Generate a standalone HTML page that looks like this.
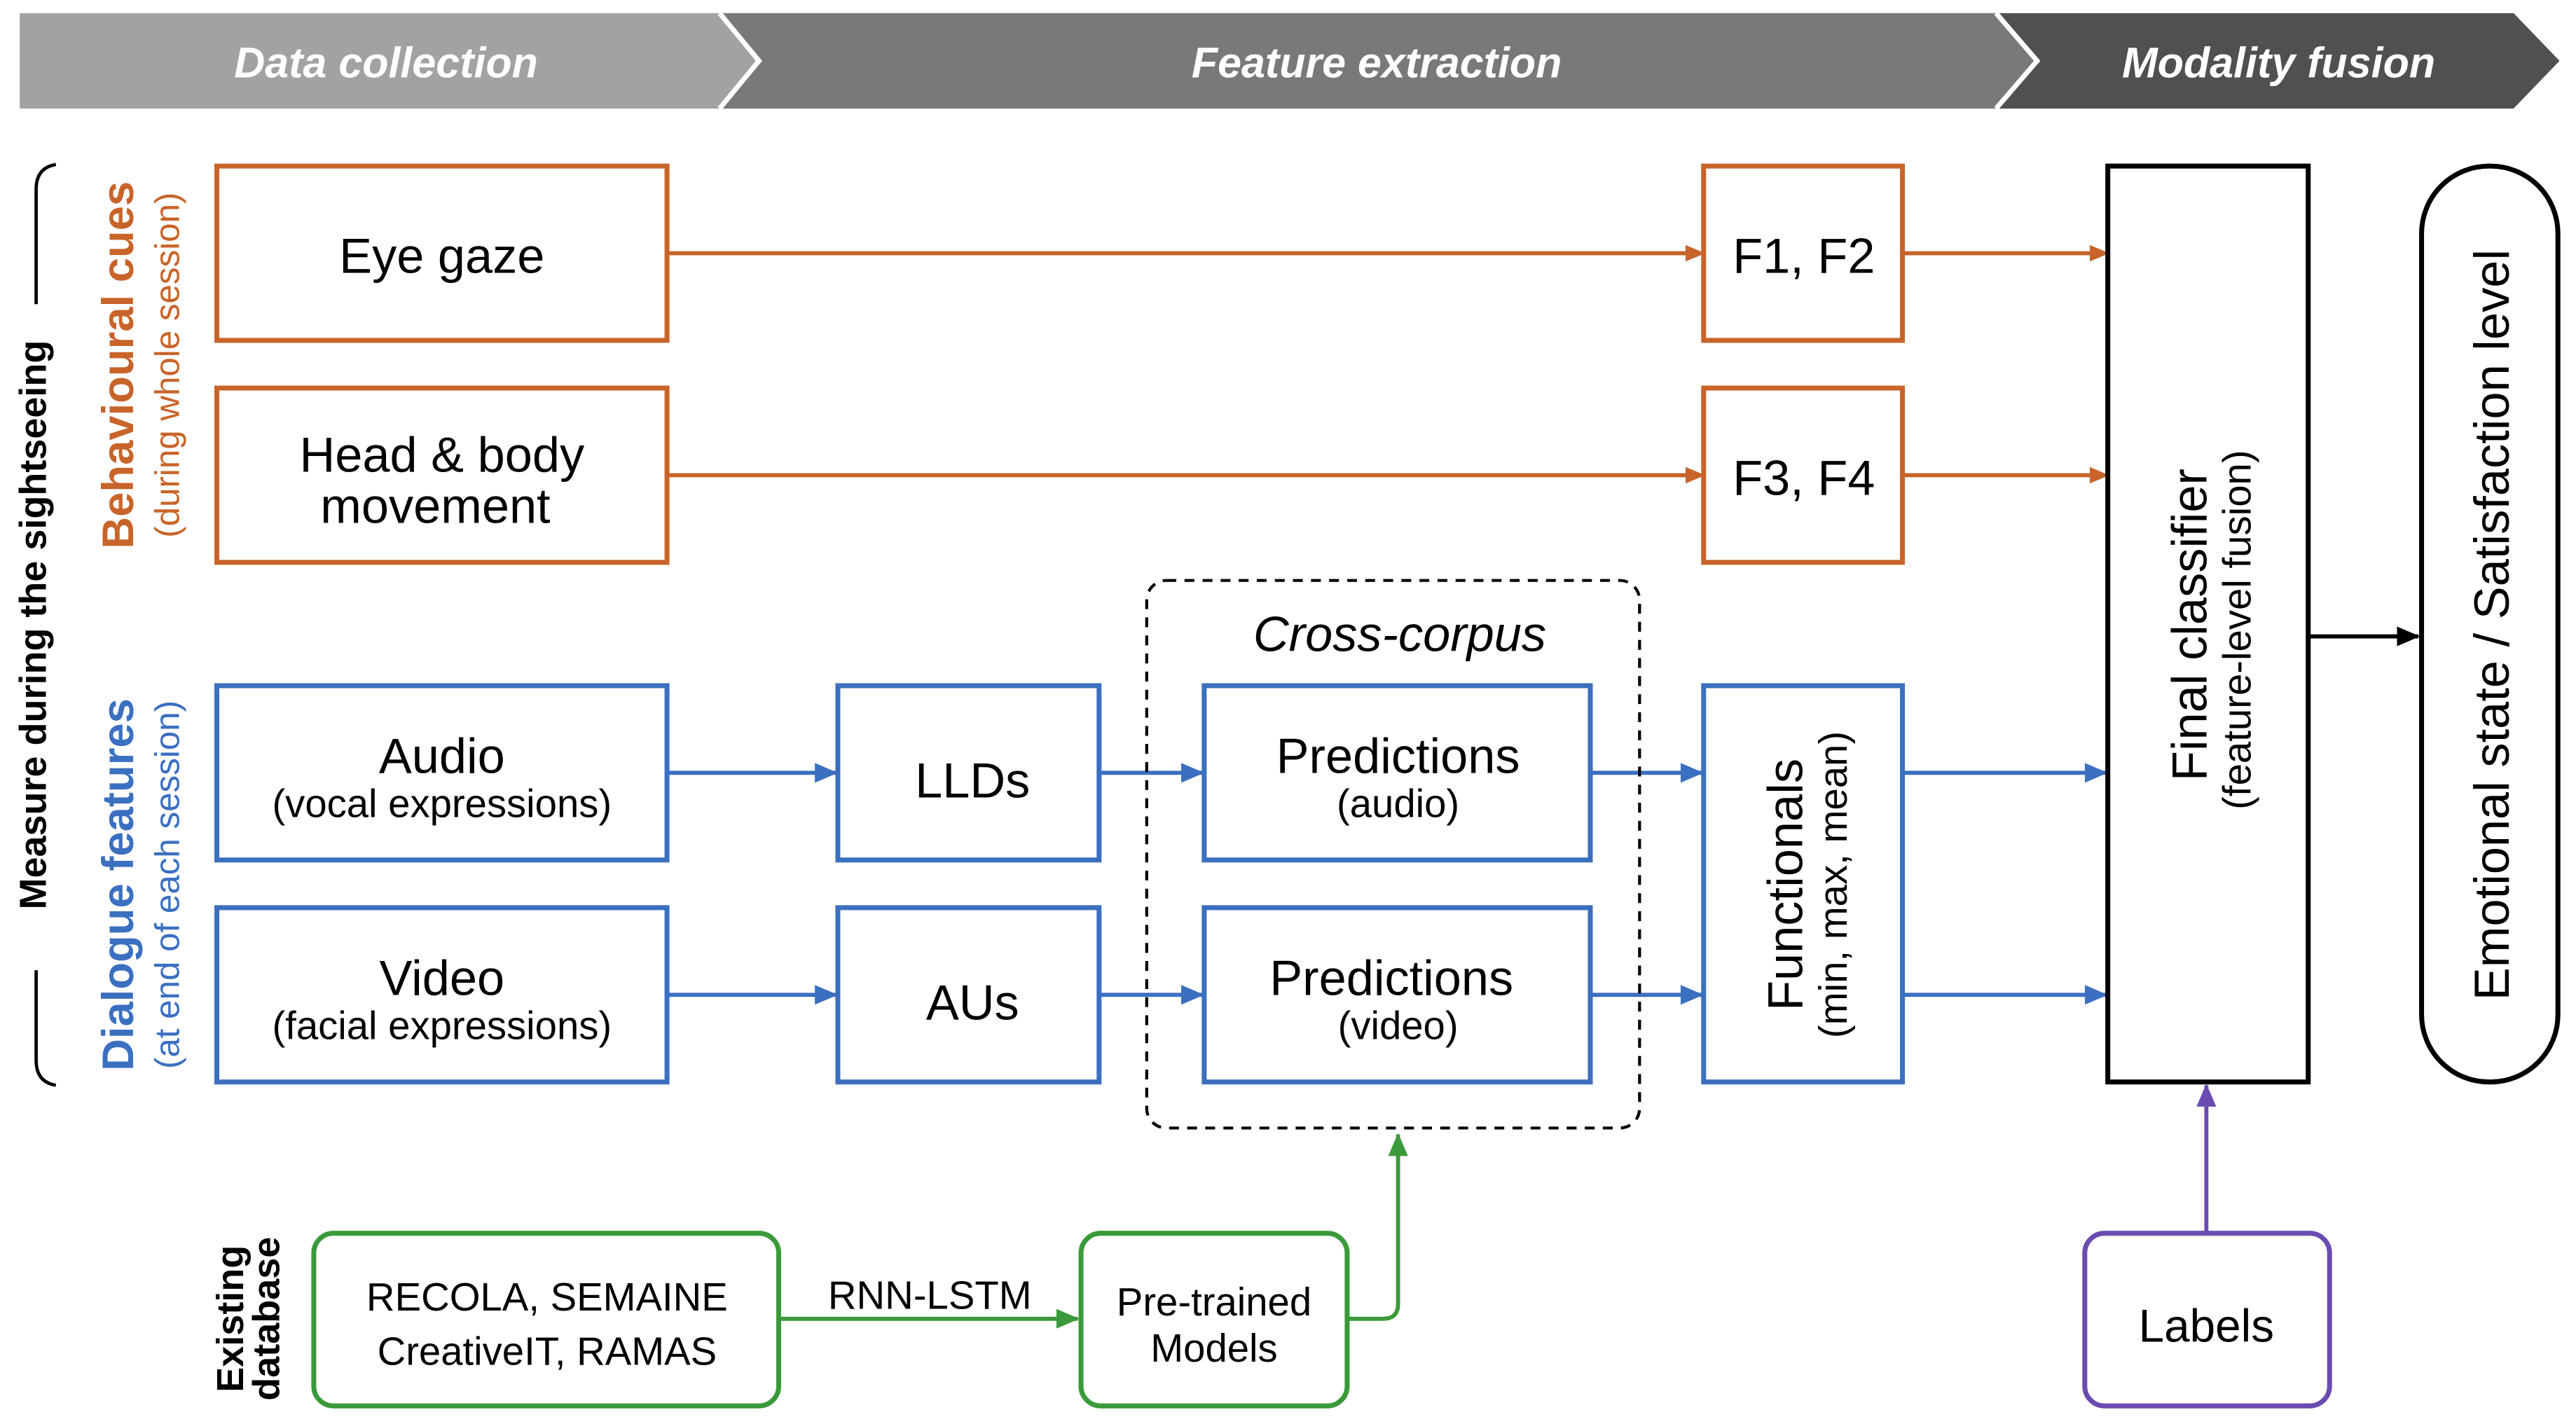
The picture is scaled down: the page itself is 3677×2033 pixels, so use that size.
<!DOCTYPE html>
<html><head><meta charset="utf-8"><style>
html,body{margin:0;padding:0;background:#fff;}
svg{display:block;}
text{font-family:"Liberation Sans",sans-serif;}
</style></head><body>
<svg width="3677" height="2033" viewBox="0 0 1568 866" preserveAspectRatio="none" xmlns="http://www.w3.org/2000/svg">
<defs>
<marker id="ao" markerWidth="10" markerHeight="10" refX="9" refY="5" orient="auto" markerUnits="userSpaceOnUse"><path d="M0,0 L12,5 L0,10 z" fill="#c8642a"/></marker>
<marker id="ab" markerWidth="14" markerHeight="12" refX="13" refY="6" orient="auto" markerUnits="userSpaceOnUse"><path d="M0,0 L14,6 L0,12 z" fill="#3b6fc0"/></marker>
<marker id="ak" markerWidth="14" markerHeight="12" refX="13" refY="6" orient="auto" markerUnits="userSpaceOnUse"><path d="M0,0 L14,6 L0,12 z" fill="#000"/></marker>
<marker id="ag" markerWidth="14" markerHeight="12" refX="13" refY="6" orient="auto" markerUnits="userSpaceOnUse"><path d="M0,0 L14,6 L0,12 z" fill="#3a9a3a"/></marker>
<marker id="ap" markerWidth="14" markerHeight="12" refX="13" refY="6" orient="auto" markerUnits="userSpaceOnUse"><path d="M0,0 L14,6 L0,12 z" fill="#6a4bb0"/></marker>
</defs>
<polygon points="1215,8 1530,8 1558,37 1530,66 1215,66 1240,37" fill="#4f5052"/>
<polygon points="440,8 1215,8 1240,37 1215,66 440,66 462,37" fill="#79797c"/>
<polygon points="12,8 438,8 462,37 438,66 12,66" fill="#a2a2a5"/>
<polyline points="438,8 462,37 438,66" fill="none" stroke="#fff" stroke-width="3"/>
<polyline points="1215,8 1240,37 1215,66" fill="none" stroke="#fff" stroke-width="3"/>
<g fill="#fff" font-weight="bold" font-style="italic" font-size="26" text-anchor="middle">
<text x="235" y="47">Data collection</text>
<text x="838" y="47">Feature extraction</text>
<text x="1387" y="47">Modality fusion</text>
</g>
<path d="M34,100 Q22,102 22,115 L22,185" fill="none" stroke="#000" stroke-width="2"/>
<path d="M22,590 L22,645 Q22,658 34,660" fill="none" stroke="#000" stroke-width="2"/>
<text transform="translate(28,380) rotate(-90)" text-anchor="middle" font-size="23" font-weight="bold">Measure during the sightseeing</text>
<text transform="translate(81,222) rotate(-90)" text-anchor="middle" font-size="27" font-weight="bold" fill="#c8642a">Behavioural cues</text>
<text transform="translate(109,222) rotate(-90)" text-anchor="middle" font-size="21" fill="#c8642a">(during whole session)</text>
<text transform="translate(81,538) rotate(-90)" text-anchor="middle" font-size="27" font-weight="bold" fill="#3b6fc0">Dialogue features</text>
<text transform="translate(109,538) rotate(-90)" text-anchor="middle" font-size="21" fill="#3b6fc0">(at end of each session)</text>
<text transform="translate(148,802) rotate(-90)" text-anchor="middle" font-size="23" font-weight="bold">Existing</text>
<text transform="translate(170,802) rotate(-90)" text-anchor="middle" font-size="23" font-weight="bold">database</text>
<g fill="none" stroke="#c8642a" stroke-width="3">
<rect x="132" y="101" width="274" height="106"/>
<rect x="132" y="236" width="274" height="106"/>
<rect x="1037" y="101" width="121" height="106"/>
<rect x="1037" y="236" width="121" height="106"/>
</g>
<g stroke="#c8642a" stroke-width="2.5">
<line x1="406" y1="154" x2="1035" y2="154" marker-end="url(#ao)"/>
<line x1="406" y1="289" x2="1035" y2="289" marker-end="url(#ao)"/>
<line x1="1158" y1="154" x2="1281" y2="154" marker-end="url(#ao)"/>
<line x1="1158" y1="289" x2="1281" y2="289" marker-end="url(#ao)"/>
</g>
<g font-size="30" text-anchor="middle">
<text x="269" y="166">Eye gaze</text>
<text x="269" y="287">Head &amp; body</text>
<text x="265" y="318">movement</text>
<text x="1098" y="166">F1, F2</text>
<text x="1098" y="301">F3, F4</text>
</g>
<g fill="none" stroke="#3b6fc0" stroke-width="3">
<rect x="132" y="417" width="274" height="106"/>
<rect x="132" y="552" width="274" height="106"/>
<rect x="510" y="417" width="159" height="106"/>
<rect x="510" y="552" width="159" height="106"/>
<rect x="733" y="417" width="235" height="106"/>
<rect x="733" y="552" width="235" height="106"/>
<rect x="1037" y="417" width="121" height="241"/>
</g>
<g stroke="#3b6fc0" stroke-width="2.5">
<line x1="406" y1="470" x2="509" y2="470" marker-end="url(#ab)"/>
<line x1="406" y1="605" x2="509" y2="605" marker-end="url(#ab)"/>
<line x1="669" y1="470" x2="732" y2="470" marker-end="url(#ab)"/>
<line x1="669" y1="605" x2="732" y2="605" marker-end="url(#ab)"/>
<line x1="968" y1="470" x2="1036" y2="470" marker-end="url(#ab)"/>
<line x1="968" y1="605" x2="1036" y2="605" marker-end="url(#ab)"/>
<line x1="1158" y1="470" x2="1282" y2="470" marker-end="url(#ab)"/>
<line x1="1158" y1="605" x2="1282" y2="605" marker-end="url(#ab)"/>
</g>
<g text-anchor="middle">
<text x="269" y="470" font-size="30">Audio</text>
<text x="269" y="497" font-size="24">(vocal expressions)</text>
<text x="269" y="605" font-size="30">Video</text>
<text x="269" y="632" font-size="24">(facial expressions)</text>
<text x="592" y="485" font-size="30">LLDs</text>
<text x="592" y="620" font-size="30">AUs</text>
<text x="851" y="470" font-size="30">Predictions</text>
<text x="851" y="497" font-size="24">(audio)</text>
<text x="847" y="605" font-size="30">Predictions</text>
<text x="851" y="632" font-size="24">(video)</text>
<text transform="translate(1097,538) rotate(-90)" font-size="30">Functionals</text>
<text transform="translate(1124,538) rotate(-90)" font-size="24">(min, max, mean)</text>
</g>
<rect x="698" y="353" width="300" height="333" rx="12" fill="none" stroke="#000" stroke-width="1.8" stroke-dasharray="6,5"/>
<text x="852" y="396" text-anchor="middle" font-size="30" font-style="italic">Cross-corpus</text>
<rect x="1283" y="101" width="122" height="557" fill="none" stroke="#000" stroke-width="3"/>
<text transform="translate(1343,380) rotate(-90)" text-anchor="middle" font-size="30">Final classifier</text>
<text transform="translate(1370,383) rotate(-90)" text-anchor="middle" font-size="24">(feature-level fusion)</text>
<line x1="1405" y1="387" x2="1472" y2="387" stroke="#000" stroke-width="2.5" marker-end="url(#ak)"/>
<rect x="1474" y="101" width="83" height="557" rx="41" fill="none" stroke="#000" stroke-width="3"/>
<text transform="translate(1527,380) rotate(-90)" text-anchor="middle" font-size="30">Emotional state / Satisfaction level</text>
<g fill="none" stroke="#3a9a3a" stroke-width="3">
<rect x="191" y="750" width="283" height="105" rx="12"/>
<rect x="658" y="750" width="162" height="105" rx="12"/>
</g>
<line x1="474" y1="802" x2="656" y2="802" stroke="#3a9a3a" stroke-width="2.5" marker-end="url(#ag)"/>
<path d="M820,802 L842,802 Q851,802 851,793 L851,690" fill="none" stroke="#3a9a3a" stroke-width="2.5" marker-end="url(#ag)"/>
<g text-anchor="middle" font-size="24">
<text x="333" y="797">RECOLA, SEMAINE</text>
<text x="333" y="830">CreativeIT, RAMAS</text>
<text x="566" y="796">RNN-LSTM</text>
<text x="739" y="800">Pre-trained</text>
<text x="739" y="828">Models</text>
</g>
<rect x="1269" y="750" width="149" height="105" rx="12" fill="none" stroke="#6a4bb0" stroke-width="3"/>
<line x1="1343" y1="750" x2="1343" y2="660" stroke="#6a4bb0" stroke-width="2.5" marker-end="url(#ap)"/>
<text x="1343" y="816" text-anchor="middle" font-size="28">Labels</text>
</svg>
</body></html>
